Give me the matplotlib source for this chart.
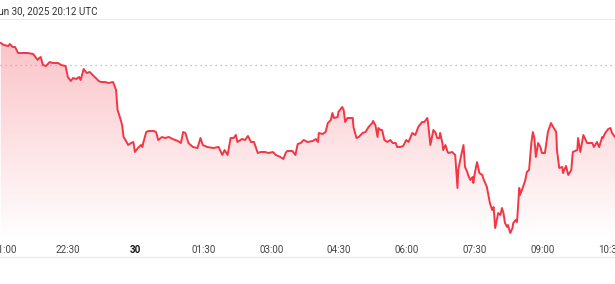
import numpy as np
import matplotlib
matplotlib.use("Agg")
import matplotlib.pyplot as plt
from matplotlib.lines import Line2D
from matplotlib.patches import Polygon
import matplotlib.transforms as mtransforms

plt.rcParams["font.family"] = ["Roboto", "DejaVu Sans"]

# minutes since 21:00 UTC (Jun 29)
minutes = [1, 5, 11, 13, 17, 20, 24, 30, 37, 44, 48, 50, 52, 54, 57, 61, 66, 70, 77, 81,
           87, 90, 94, 97, 101, 105, 107, 111, 115, 119, 123, 127, 131, 134, 139, 144, 150, 154, 156, 159,
           162, 164, 168, 170, 174, 177, 179, 183, 187, 189, 190, 194, 197, 204, 207, 210, 215, 219, 224, 229,
           236, 240, 243, 246, 250, 256, 262, 266, 269, 275, 283, 290, 295, 298, 302, 306, 310, 313, 315, 321,
           325, 329, 333, 337, 342, 346, 352, 356, 362, 366, 372, 376, 379, 381, 388, 392, 395, 399, 403, 408,
           415, 419, 422, 423, 428, 432, 435, 439, 441, 443, 448, 449, 454, 456, 458, 461, 468, 469, 473, 476,
           481, 485, 489, 494, 495, 498, 501, 502, 505, 507, 510, 514, 518, 521, 525, 527, 531, 535, 539, 542,
           547, 551, 555, 560, 563, 567, 568, 571, 575, 578, 580, 583, 584, 587, 588, 591, 594, 595, 600, 604,
           607, 608, 612, 615, 617, 620, 621, 624, 627, 628, 630, 633, 636, 640, 641, 646, 648, 650, 653, 655,
           657, 660, 661, 664, 666, 668, 670, 673, 674, 677, 680, 681, 684, 686, 689, 690, 694, 697, 699, 702,
           705, 707, 709, 711, 714, 717, 719, 723, 727, 731, 734, 738, 739, 742, 746, 747, 751, 754, 758, 760,
           766, 767, 770, 774, 779, 786, 788, 792, 795, 799, 800, 803, 807, 810, 812, 816]

# price level (arbitrary units)
price = [197, 195, 194, 196, 193, 193, 187, 187, 187, 186, 182, 180, 182, 183, 175, 174, 178, 177, 177, 175,
         174, 163, 159, 162, 161, 163, 160, 171, 167, 168, 165, 162, 159, 158, 158, 157, 158, 150, 130, 123,
         115, 103, 98, 95, 97, 98, 88, 92, 95, 93, 97, 108, 109, 109, 108, 100, 103, 102, 103, 101,
         99, 97, 108, 107, 97, 93, 92, 102, 95, 93, 92, 93, 85, 90, 85, 102, 102, 105, 98, 101,
         100, 104, 98, 98, 87, 88, 88, 87, 88, 85, 83, 81, 87, 89, 89, 85, 96, 97, 100, 98,
         99, 101, 98, 107, 106, 108, 117, 120, 127, 122, 123, 128, 133, 130, 118, 122, 122, 113, 102, 103,
         107, 108, 113, 117, 119, 115, 103, 112, 110, 110, 100, 98, 100, 97, 97, 93, 93, 94, 100, 98,
         107, 105, 113, 118, 118, 122, 117, 95, 110, 107, 102, 102, 107, 97, 90, 95, 88, 87, 88, 85,
         52, 70, 85, 95, 73, 68, 65, 60, 63, 57, 67, 78, 67, 65, 62, 53, 45, 37, 30, 33,
         12, 23, 27, 25, 32, 27, 17, 13, 15, 7, 12, 17, 20, 18, 52, 45, 53, 60, 68, 70,
         97, 108, 102, 83, 97, 93, 87, 87, 108, 117, 113, 108, 90, 72, 73, 67, 74, 65, 70, 88,
         90, 102, 88, 105, 97, 97, 93, 98, 93, 103, 102, 107, 111, 112, 107, 103]

prev_close = 175

tick_minutes = [0, 90, 180, 270, 360, 450, 540, 630, 720, 810]
tick_labels = ["21:00", "22:30", "30", "01:30", "03:00", "04:30", "06:00", "07:30", "09:00", "10:30"]

line_color = "#f23645"

fig = plt.figure(figsize=(6.15, 2.84), dpi=100)
ax = fig.add_axes([0, 44 / 284, 1, 220 / 284])
ax.set_xlim(0, 816)
ax.set_ylim(0, 220)

# gradient fill under the line
grad = np.linspace(0, 0.33, 256).reshape(-1, 1)
rgba = np.zeros((256, 1, 4))
rgba[..., :3] = matplotlib.colors.to_rgb(line_color)
rgba[..., 3] = grad
img = ax.imshow(rgba, extent=[0, 816, 0, 220], origin="lower", aspect="auto", zorder=1)
poly = Polygon(list(zip(minutes, price)) + [(minutes[-1], 0), (minutes[0], 0)],
               closed=True, facecolor="none", edgecolor="none")
ax.add_patch(poly)
img.set_clip_path(poly)

ax.plot(minutes, price, color=line_color, lw=1.4, zorder=3, solid_joinstyle="round")
ax.axhline(prev_close, color="#b0b0b0", lw=0.9, ls=(0, (1, 3)), zorder=2)

for s in ax.spines.values():
    s.set_visible(False)
ax.set_yticks([])
ax.set_xticks(tick_minutes)
ax.set_xticklabels(tick_labels, fontsize=7.1, color="#444444")
ax.tick_params(axis="x", length=0, pad=3.5)
labels = ax.get_xticklabels()
labels[2].set_fontweight("bold")
labels[2].set_color("#1a1a1a")
labels[0].set_transform(labels[0].get_transform() +
                        mtransforms.ScaledTranslation(4.5 / 100, 0, fig.dpi_scale_trans))

fig.add_artist(Line2D([0, 1], [1 - 19 / 284, 1 - 19 / 284], color="#ececec", lw=0.8))
fig.add_artist(Line2D([0, 1], [1 - 257 / 284, 1 - 257 / 284], color="#ececec", lw=1.0))

fig.text(98 / 615, 1 - 11 / 284, "Jun 30, 2025 20:12 UTC", ha="right", va="center",
         fontsize=7.1, color="#333333")

fig.savefig("out.png", dpi=100)
